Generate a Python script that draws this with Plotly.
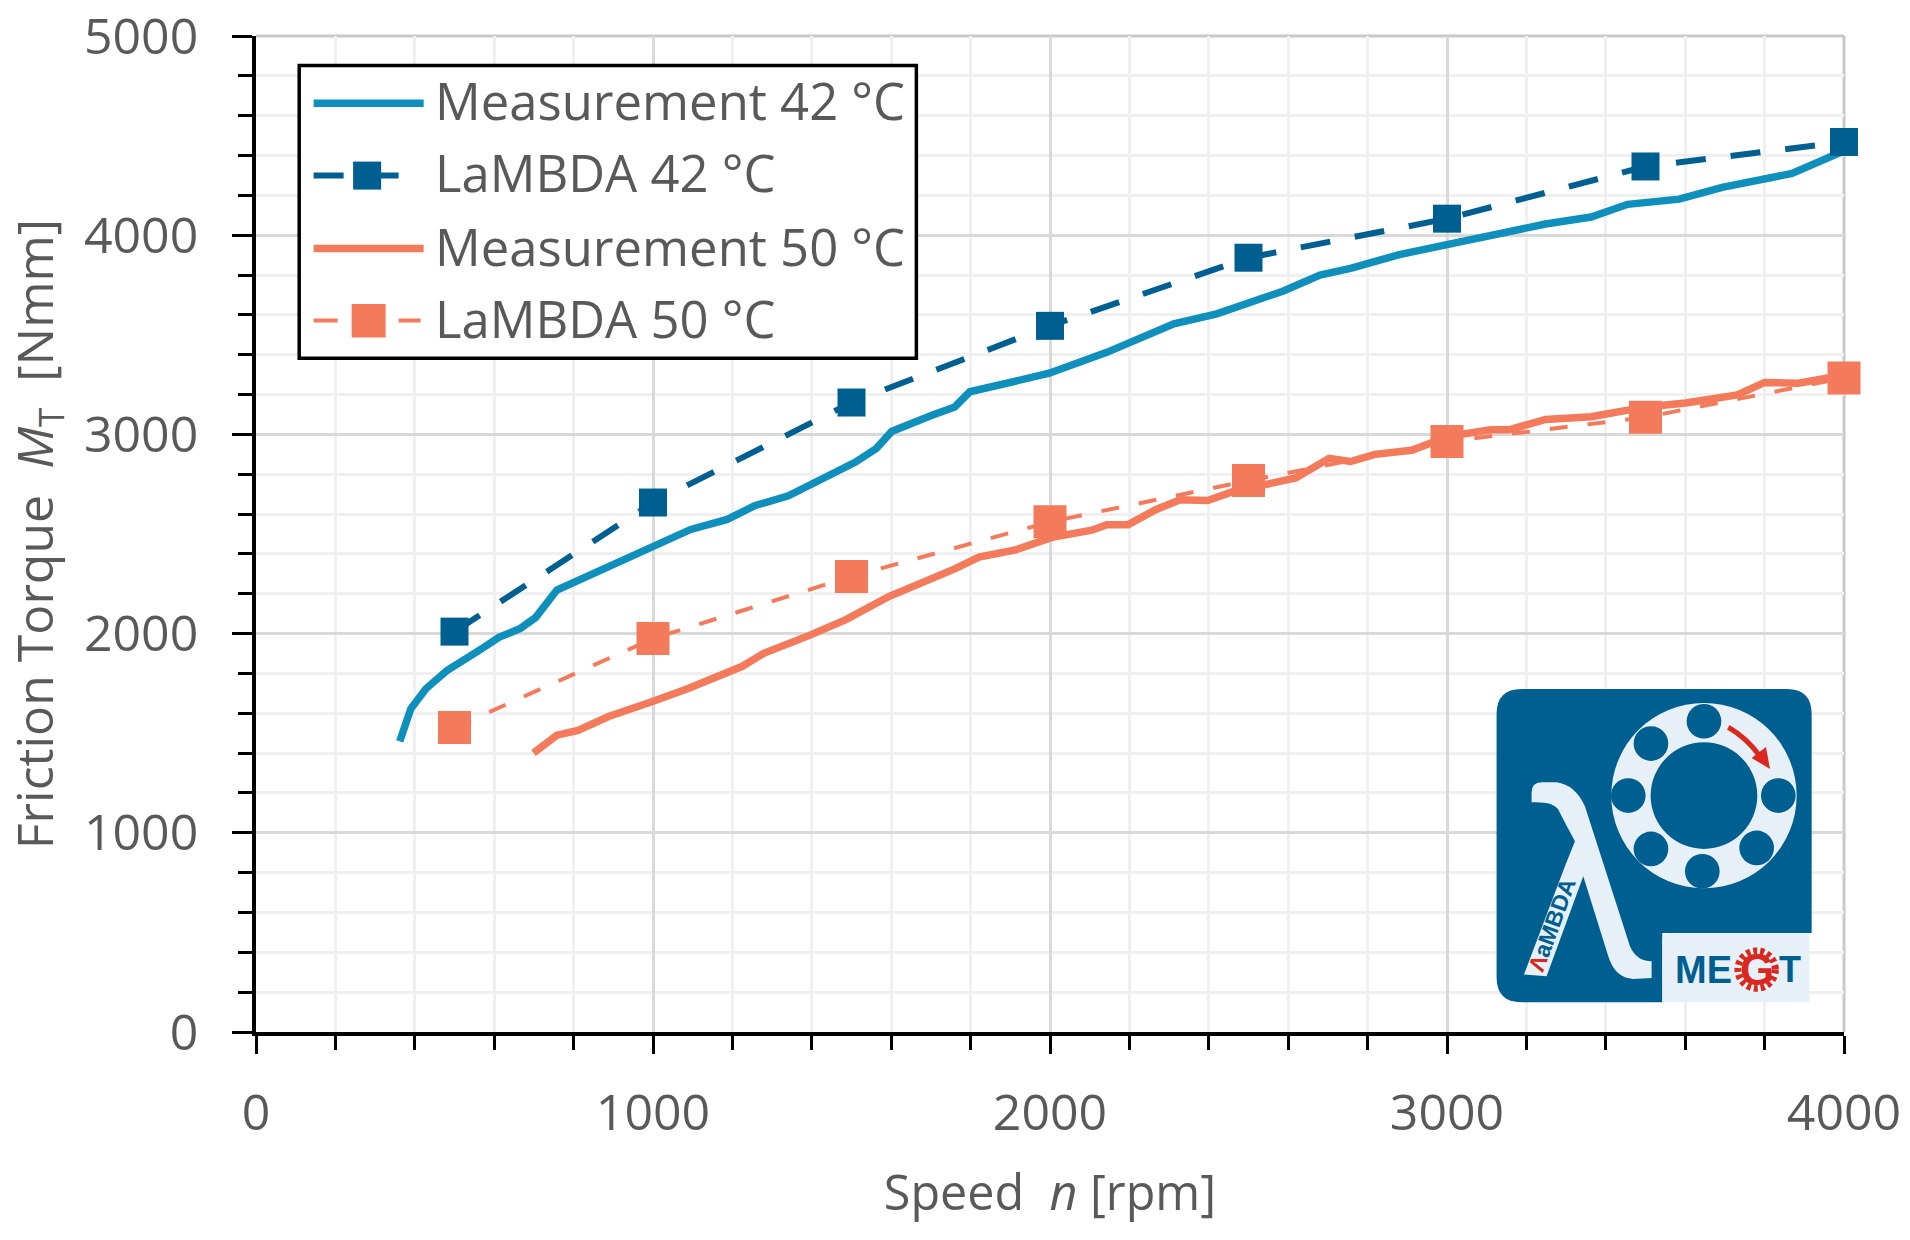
import plotly.graph_objects as go

# Friction torque curves
meas42_speed = [362, 390, 428, 482, 566, 612, 666, 704, 758, 842, 949, 1095, 1187, 1256, 1341, 1425, 1509, 1563,
                1601, 1701, 1760, 1798, 1998, 2143, 2312, 2420, 2588, 2680, 2757, 2880, 3003, 3141, 3248, 3363,
                3455, 3585, 3693, 3869, 3969, 3997]
meas42_torque = [1459, 1623, 1723, 1816, 1921, 1981, 2026, 2080, 2219, 2295, 2384, 2523, 2573, 2642, 2692, 2771,
                 2860, 2930, 3015, 3095, 3138, 3214, 3307, 3412, 3555, 3605, 3720, 3800, 3833, 3903, 3956, 4012,
                 4056, 4091, 4155, 4181, 4240, 4310, 4389, 4420]
meas50_speed = [699, 758, 811, 888, 995, 1087, 1225, 1279, 1394, 1486, 1594, 1678, 1760, 1821, 1913, 2005, 2105,
                2143, 2197, 2266, 2328, 2397, 2466, 2619, 2703, 2757, 2818, 2911, 3003, 3110, 3156, 3248, 3363,
                3501, 3601, 3731, 3800, 3885, 3999]
meas50_torque = [1401, 1490, 1514, 1584, 1657, 1723, 1836, 1901, 1991, 2070, 2186, 2255, 2325, 2384, 2420, 2483,
                 2519, 2547, 2547, 2622, 2672, 2668, 2716, 2781, 2880, 2864, 2900, 2920, 2990, 3023, 3023, 3075,
                 3089, 3138, 3158, 3198, 3261, 3257, 3297]
lambda_speed = [500, 1000, 1500, 2000, 2500, 3000, 3500, 4000]
lambda42_torque = [2010, 2658, 3160, 3545, 3887, 4083, 4345, 4468]
lambda50_torque = [1528, 1975, 2287, 2561, 2768, 2964, 3086, 3283]

legend_labels = ["Measurement 42 °C", "LaMBDA 42 °C", "Measurement 50 °C", "LaMBDA 50 °C"]

BLUE_LIGHT = "#0F8FBC"
BLUE_DARK = "#005F91"
ORANGE = "#F47A5C"
TEXT = "#595959"
PALE = "#E6F0F6"
RED = "#D9281E"
FONT = "Open Sans"

# plot area in page pixels
LEFT, RIGHT, TOP, BOTTOM = 256.4, 1844, 36.4, 1032.4


def px(x):
    return (x - LEFT) / (RIGHT - LEFT)


def py(y):
    return (BOTTOM - y) / (BOTTOM - TOP)


def lx(x):
    # logo crop coordinates to paper
    return px(1450 + x / 3)


def ly(y):
    return py(660 + y / 3)


shapes = []
annotations = []


def add_rect(x0, y0, x1, y1, fill, line=None, width=0):
    shapes.append(dict(type="rect", xref="paper", yref="paper", x0=px(x0), x1=px(x1), y0=py(y0), y1=py(y1),
                       fillcolor=fill, line=dict(color=line, width=width)))


def add_hline(x0, x1, y, color, width, dash="solid"):
    shapes.append(dict(type="line", xref="paper", yref="paper", x0=px(x0), x1=px(x1), y0=py(y), y1=py(y),
                       line=dict(color=color, width=width, dash=dash)))


def logo_path(points, fill):
    # points: list of (command, x, y, ...) in logo crop coordinates
    parts = []
    for p in points:
        if p[0] == "Z":
            parts.append("Z")
            continue
        coords = []
        for i in range(1, len(p), 2):
            coords.append(f"{lx(p[i]):.5f},{ly(p[i + 1]):.5f}")
        parts.append(p[0] + " " + " ".join(coords))
    shapes.append(dict(type="path", xref="paper", yref="paper", path=" ".join(parts), fillcolor=fill,
                       line=dict(width=0)))


def logo_circle(cx, cy, r, fill):
    shapes.append(dict(type="circle", xref="paper", yref="paper", x0=lx(cx - r), x1=lx(cx + r), y0=ly(cy + r),
                       y1=ly(cy - r), fillcolor=fill, line=dict(width=0)))


def logo_text(text, x, y, size, color, angle=0):
    annotations.append(dict(text=text, xref="paper", yref="paper", x=lx(x), y=ly(y), xanchor="center",
                            yanchor="middle", showarrow=False, textangle=angle,
                            font=dict(family="Liberation Sans", size=size, color=color)))


# top and right border of the plot area are grey
shapes.append(dict(type="line", xref="paper", yref="paper", x0=0, x1=1, y0=1, y1=1, layer="below",
                   line=dict(color="#C8C8C8", width=3)))
shapes.append(dict(type="line", xref="paper", yref="paper", x0=1, x1=1, y0=0, y1=1, layer="below",
                   line=dict(color="#C8C8C8", width=3)))

# legend box
add_rect(299.6, 66, 916.6, 358.6, "white", "black", 3.5)
add_hline(314, 424, 103.6, BLUE_LIGHT, 7.5)
add_hline(314, 399, 176, BLUE_DARK, 6, "30px,10px,45px")
add_rect(353.5, 162, 381.5, 190, BLUE_DARK)
add_hline(314, 424, 249, ORANGE, 7.5)
add_hline(314, 421, 321, ORANGE, 4, "24px,61px,22px")
add_rect(352, 304.5, 386, 338, ORANGE)
for label, row_y in zip(legend_labels, [101, 173, 246.5, 318.5]):
    annotations.append(dict(text=label, xref="paper", yref="paper", x=px(433), y=py(row_y), xanchor="left",
                            yanchor="middle", showarrow=False, font=dict(family=FONT, size=50.8, color=TEXT)))

# logo
logo_path([("M", 215, 88), ("L", 1010, 88), ("Q", 1085, 88, 1085, 163), ("L", 1085, 820), ("L", 637, 820),
           ("L", 637, 1028), ("L", 215, 1028), ("Q", 140, 1028, 140, 953), ("L", 140, 163),
           ("Q", 140, 88, 215, 88), ("Z",)], BLUE_DARK)
logo_path([("M", 662, 820), ("L", 1078, 820), ("L", 1078, 1028), ("L", 637, 1028), ("L", 637, 845),
           ("Q", 637, 820, 662, 820), ("Z",)], PALE)
logo_circle(762, 408, 278, PALE)
logo_circle(762, 408, 160, BLUE_DARK)
for cx, cy in [(762, 185), (603, 252), (535, 408), (603, 568), (757, 635), (920, 565), (985, 408)]:
    logo_circle(cx, cy, 52, BLUE_DARK)
shapes.append(dict(type="path", xref="paper", yref="paper",
                   path=f"M {lx(835):.5f},{ly(203):.5f} Q {lx(890):.5f},{ly(235):.5f} {lx(930):.5f},{ly(290):.5f}",
                   line=dict(color=RED, width=5)))
logo_path([("M", 905, 295), ("L", 960, 328), ("L", 948, 262), ("Z",)], RED)
logo_path([("M", 245, 400), ("Q", 245, 368, 275, 368), ("L", 320, 368), ("Q", 375, 375, 405, 440),
           ("L", 540, 860), ("Q", 560, 905, 605, 905), ("L", 605, 955), ("L", 550, 958),
           ("Q", 495, 955, 475, 890), ("L", 400, 650), ("L", 290, 950), ("L", 222, 945), ("L", 345, 620),
           ("L", 375, 545), ("Q", 345, 490, 325, 450), ("Q", 310, 425, 245, 428), ("Z",)], PALE)
logo_text(f'<b><span style="color:{RED}">Λ</span>aMBDA</b>', 305, 795, 23, BLUE_DARK, angle=-70)
logo_text("<b>ME</b>", 762, 930, 38, BLUE_DARK)
logo_text("<b>T</b>", 1020, 930, 36, BLUE_DARK)
shapes.append(dict(type="circle", xref="paper", yref="paper", x0=lx(920 - 56), x1=lx(920 + 56), y0=ly(930 + 56),
                   y1=ly(930 - 56), line=dict(color=RED, width=7, dash="4px,3px")))
logo_text("<b>G</b>", 920, 930, 44, RED)

fig = go.Figure()
fig.add_trace(go.Scatter(x=meas42_speed, y=meas42_torque, mode="lines", name=legend_labels[0],
                         line=dict(color=BLUE_LIGHT, width=7.5), cliponaxis=False))
fig.add_trace(go.Scatter(x=lambda_speed, y=lambda42_torque, mode="lines+markers", name=legend_labels[1],
                         line=dict(color=BLUE_DARK, width=6, dash="30px,25px"),
                         marker=dict(symbol="square", size=28, color=BLUE_DARK), cliponaxis=False))
fig.add_trace(go.Scatter(x=lambda_speed, y=lambda50_torque, mode="lines+markers", name=legend_labels[3],
                         line=dict(color=ORANGE, width=4, dash="18px,20px"),
                         marker=dict(symbol="square", size=33, color=ORANGE), cliponaxis=False))
fig.add_trace(go.Scatter(x=meas50_speed, y=meas50_torque, mode="lines", name=legend_labels[2],
                         line=dict(color=ORANGE, width=7.5), cliponaxis=False))

fig.update_layout(
    width=1910,
    height=1240,
    margin=dict(l=LEFT, r=1910 - RIGHT, t=TOP, b=1240 - BOTTOM, pad=0),
    paper_bgcolor="white",
    plot_bgcolor="white",
    showlegend=False,
    shapes=shapes,
    annotations=annotations,
)
fig.update_xaxes(
    range=[0, 4000], dtick=1000, zeroline=False, automargin="height",
    showline=True, linecolor="black", linewidth=3.5,
    ticks="outside", ticklen=18, tickwidth=3, tickcolor="black", ticklabelstandoff=16,
    tickfont=dict(family=FONT, size=50, color=TEXT),
    showgrid=True, gridcolor="#D9D9D9", gridwidth=2.5,
    minor=dict(dtick=200, ticks="outside", ticklen=14, tickwidth=3, tickcolor="black",
               showgrid=True, gridcolor="#F0F0F0", gridwidth=2.5),
    title=dict(text="Speed  <i>n</i> [rpm]", standoff=33, font=dict(family=FONT, size=48.5, color=TEXT)),
)
fig.update_yaxes(
    range=[0, 5000], dtick=1000, zeroline=False, automargin="width",
    showline=True, linecolor="black", linewidth=3.5,
    ticks="outside", ticklen=20, tickwidth=3, tickcolor="black", ticklabelstandoff=24,
    tickfont=dict(family=FONT, size=50, color=TEXT),
    showgrid=True, gridcolor="#D9D9D9", gridwidth=2.5,
    minor=dict(dtick=200, ticks="outside", ticklen=14, tickwidth=3, tickcolor="black",
               showgrid=True, gridcolor="#F0F0F0", gridwidth=2.5),
    title=dict(text="Friction Torque  <i>M</i><sub>T</sub>  [Nmm]", standoff=20,
               font=dict(family=FONT, size=50, color=TEXT)),
)

fig.write_html("out.html", config=dict(displayModeBar=False), post_script="document.body.style.margin='0';")
